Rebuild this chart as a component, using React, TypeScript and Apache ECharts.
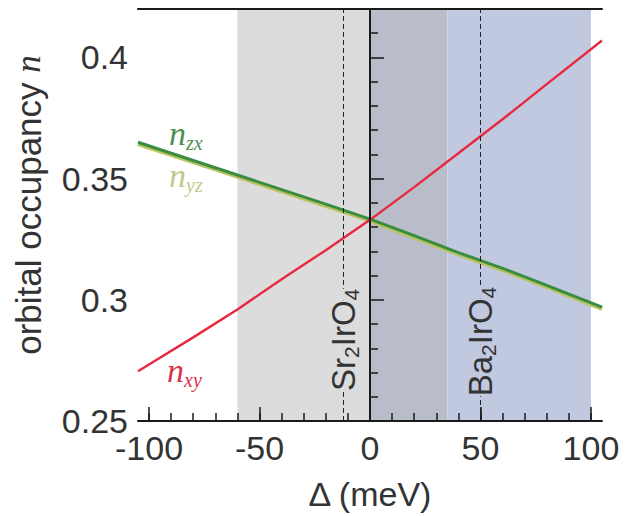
import React, { useEffect, useRef } from "react";
import * as echarts from "echarts";

// Δ (meV) sample points
const deltas = [-105, -80, -60, -40, -20, 0, 20, 40, 60, 80, 105];
// orbital occupancies
const nxy = [0.2705, 0.2845, 0.296, 0.3085, 0.3205, 0.333, 0.3465, 0.3605, 0.3745, 0.389, 0.407];
const nzx = [0.365, 0.3575, 0.3515, 0.3455, 0.3395, 0.3333, 0.3265, 0.3195, 0.313, 0.306, 0.297];
const nyz = [0.3644, 0.3569, 0.3509, 0.3449, 0.3389, 0.3328, 0.3259, 0.3189, 0.3124, 0.3054, 0.2964];

// shaded ranges (meV)
const srRange = [-60, 35];
const baRange = [0, 100];
// compound positions (meV)
const srDelta = -12;
const baDelta = 50;

// ticks
const xMajorTicks = [-100, -50, 0, 50, 100];
const xMinorTicks = [-100, -90, -80, -70, -60, -50, -40, -30, -20, -10, 0, 10, 20, 30, 40, 50, 60, 70, 80, 90, 100];
const yMajorTicks = [0.25, 0.3, 0.35, 0.4];
const yMinorTicks = [0.26, 0.27, 0.28, 0.29, 0.31, 0.32, 0.33, 0.34, 0.36, 0.37, 0.38, 0.39, 0.41];

const SANS = "Liberation Sans, Arial, sans-serif";
const SERIF = "Liberation Serif, Times New Roman, serif";
const AX = "#1a1a1a";
const TXT = "#333";

const pairs = (ys: number[]) => deltas.map((d, i) => [d, ys[i]]);

export default function App() {
  const ref = useRef<HTMLDivElement>(null);
  useEffect(() => {
    if (!ref.current) return;
    const chart = echarts.init(ref.current, null, { renderer: "svg" });
    const baseAxis = { type: "value", min: -105, max: 105, splitLine: { show: false } };
    const yBase = { type: "value", min: 0.25, max: 0.42, splitLine: { show: false } };
    chart.setOption({
      animation: false,
      grid: { left: 138, top: 9, right: 30, bottom: 91 },
      xAxis: [
        {
          ...baseAxis,
          position: "bottom",
          z: 10,
          axisLine: { show: true, lineStyle: { color: AX, width: 2 } },
          axisTick: { show: true, inside: true, length: 14, customValues: xMajorTicks, lineStyle: { color: AX, width: 1.5 } },
          axisLabel: { customValues: xMajorTicks, fontSize: 34, color: TXT, margin: 10, fontFamily: SANS },
          name: "Δ (meV)",
          nameLocation: "middle",
          nameGap: 56,
          nameTextStyle: { fontSize: 34, color: TXT, fontFamily: SANS },
        },
        {
          ...baseAxis,
          position: "bottom",
          z: 10,
          axisLine: { show: false },
          axisTick: { show: true, inside: true, length: 8, customValues: xMinorTicks, lineStyle: { color: AX, width: 1.5 } },
          axisLabel: { show: false },
        },
        {
          ...baseAxis,
          position: "top",
          z: 10,
          axisLine: { show: true, lineStyle: { color: AX, width: 2 } },
          axisTick: { show: false },
          axisLabel: { show: false },
        },
      ],
      yAxis: [
        {
          ...yBase,
          position: "left",
          z: 10,
          axisLine: { show: true, lineStyle: { color: AX, width: 2 } },
          axisTick: { show: true, inside: true, length: 14, customValues: yMajorTicks, lineStyle: { color: AX, width: 1.5 } },
          axisLabel: { customValues: yMajorTicks, fontSize: 34, color: TXT, margin: 10, fontFamily: SANS },
        },
        {
          ...yBase,
          position: "left",
          z: 10,
          axisLine: { show: false },
          axisTick: { show: true, inside: true, length: 8, customValues: yMinorTicks, lineStyle: { color: AX, width: 1.5 } },
          axisLabel: { show: false },
        },
        {
          ...yBase,
          position: "right",
          z: 10,
          axisLine: { show: true, lineStyle: { color: AX, width: 2 } },
          axisTick: { show: false },
          axisLabel: { show: false },
        },
      ],
      series: [
        {
          type: "line",
          name: "regions",
          data: [],
          z: 1,
          silent: true,
          markArea: {
            silent: true,
            data: [
              [{ xAxis: srRange[0], itemStyle: { color: "#dcdcdc" } }, { xAxis: baRange[0] }],
              [{ xAxis: baRange[0], itemStyle: { color: "#b9bdca" } }, { xAxis: srRange[1] }],
              [{ xAxis: srRange[1], itemStyle: { color: "#c1c9e1" } }, { xAxis: baRange[1] }],
            ],
          },
          markLine: {
            silent: true,
            symbol: ["none", "none"],
            label: { show: false },
            data: [
              { xAxis: 0, lineStyle: { color: "#111", width: 2, type: "solid" } },
              { xAxis: srDelta, lineStyle: { color: "#222", width: 1, type: [5, 3] } },
              { xAxis: baDelta, lineStyle: { color: "#222", width: 1, type: [5, 3] } },
            ],
          },
        },
        {
          type: "line",
          name: "n_yz",
          z: 3,
          data: pairs(nyz),
          showSymbol: false,
          lineStyle: { color: "#b9c35e", width: 4.5 },
        },
        {
          type: "line",
          name: "n_zx",
          z: 4,
          data: pairs(nzx),
          showSymbol: false,
          lineStyle: { color: "#3a8c43", width: 3 },
        },
        {
          type: "line",
          name: "n_xy",
          z: 4,
          data: pairs(nxy),
          showSymbol: false,
          lineStyle: { color: "#e8283e", width: 2.4 },
        },
      ],
    });

    const px = (d: number) => chart.convertToPixel({ xAxisIndex: 0 }, d) as number;
    const py = (v: number) => chart.convertToPixel({ yAxisIndex: 0 }, v) as number;

    const compRich = (bg: string) => ({
      m: { fontSize: 33, fontFamily: SANS, fill: TXT, lineHeight: 33, verticalAlign: "top", backgroundColor: bg },
      s: { fontSize: 21, fontFamily: SANS, fill: TXT, lineHeight: 21, padding: [14, 0, 0, 0], verticalAlign: "top", backgroundColor: bg },
    });
    const labRich = (color: string) => ({
      n: { fontSize: 34, fontFamily: SERIF, fontStyle: "italic", fill: color, lineHeight: 34, verticalAlign: "top" },
      s: { fontSize: 20, fontFamily: SERIF, fontStyle: "italic", fill: color, lineHeight: 20, padding: [17, 0, 0, 0], verticalAlign: "top" },
    });

    chart.setOption({
      graphic: [
        {
          type: "text",
          z: 100,
          x: px(srDelta),
          y: py(0.2835),
          rotation: Math.PI / 2,
          style: {
            text: "{m|Sr}{s|2}{m|IrO}{s|4}",
            rich: compRich("#dcdcdc"),
            align: "center",
            verticalAlign: "middle",
          },
        },
        {
          type: "text",
          z: 100,
          x: px(baDelta),
          y: py(0.2828),
          rotation: Math.PI / 2,
          style: {
            text: "{m|Ba}{s|2}{m|IrO}{s|4}",
            rich: compRich("#c1c9e1"),
            align: "center",
            verticalAlign: "middle",
          },
        },
        {
          type: "text",
          z: 100,
          x: 169,
          y: 116,
          style: { text: "{n|n}{s|zx}", rich: labRich("#4e8e55"), align: "left", verticalAlign: "top" },
        },
        {
          type: "text",
          z: 100,
          x: 169,
          y: 158,
          style: { text: "{n|n}{s|yz}", rich: labRich("#c3c88c"), align: "left", verticalAlign: "top" },
        },
        {
          type: "text",
          z: 100,
          x: 167,
          y: 353,
          style: { text: "{n|n}{s|xy}", rich: labRich("#d8344a"), align: "left", verticalAlign: "top" },
        },
        {
          type: "text",
          z: 100,
          x: 28,
          y: 205,
          rotation: Math.PI / 2,
          style: {
            text: "{a|orbital occupancy }{b|n}",
            rich: {
              a: { fontSize: 35, fontFamily: SANS, fill: TXT },
              b: { fontSize: 35, fontFamily: SERIF, fontStyle: "italic", fill: TXT },
            },
            align: "center",
            verticalAlign: "middle",
          },
        },
      ],
    });
    return () => chart.dispose();
  }, []);
  return (
    <div
      ref={ref}
      style={{ position: "fixed", left: 0, top: 0, width: 632, height: 516, background: "#fff" }}
    />
  );
}
